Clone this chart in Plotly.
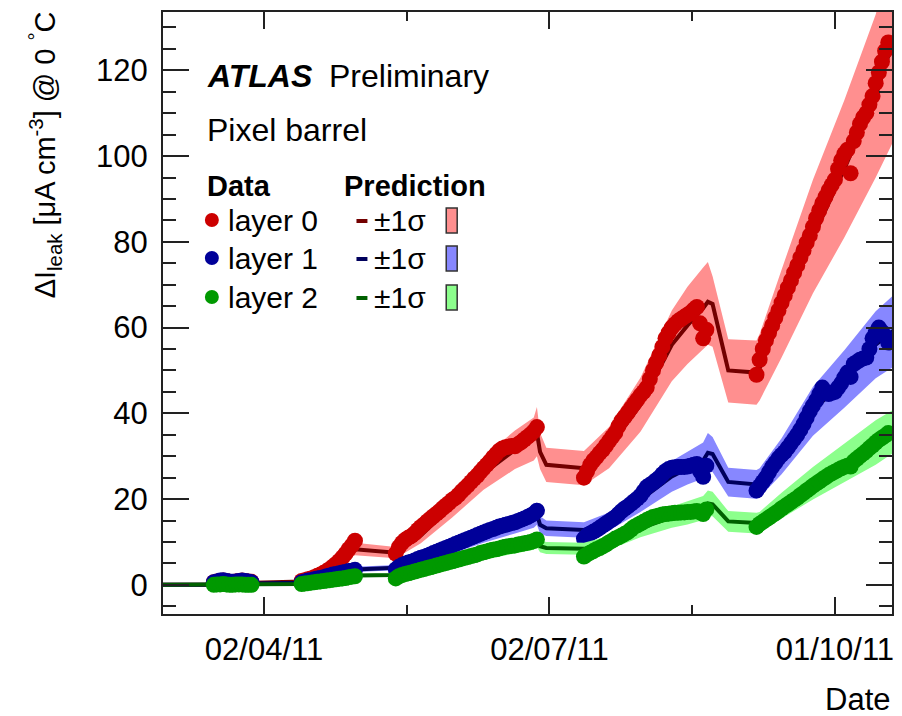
import plotly.graph_objects as go

# ---------------- data ----------------
DATES_A = ["2011-03-%02d" % d for d in range(17, 30)]
DATES_B = ["2011-04-%02d" % d for d in range(14, 31)] + ["2011-05-01"]
DATES_C = ["2011-05-%02d" % d for d in range(14, 32)] + ["2011-06-%02d" % d for d in range(1, 29)]
DATES_D = ["2011-07-%02d" % d for d in range(13, 32)] + ["2011-08-%02d" % d for d in range(1, 22)]
DATES_E = ["2011-09-%02d" % d for d in range(6, 31)] + ["2011-10-%02d" % d for d in range(1, 19)]
DATA_DATES = DATES_A + DATES_B + DATES_C + DATES_D + DATES_E

DATA_LAYER0 = [
    # Mar 17-29
    0.6, 0.8, 0.9, 1.0, 0.9, 0.7, 0.6, 0.8, 0.9, 1.0, 0.9, 0.8, 0.7,
    # Apr 14 - May 1
    0.9, 1.1, 1.3, 1.5, 1.8, 2.1, 2.4, 2.8, 3.2, 3.7, 4.3, 4.9, 5.6, 6.4, 7.3, 8.3, 9.2, 10.3,
    # May 14 - Jun 28
    7.3, 8.8, 9.8, 10.5, 11.0, 11.4, 12.0, 12.8, 13.5, 14.1, 14.8, 15.4, 16.0, 16.6, 17.2, 17.9,
    18.5, 19.1, 19.8, 20.3, 21.0, 21.8, 22.5, 23.2, 24.0, 24.8, 25.5, 26.4, 27.2, 28.0, 28.8, 29.7,
    30.5, 31.3, 31.8, 32.1, 32.2, 32.4, 32.3, 32.8, 33.3, 33.9, 34.5, 35.1, 35.8, 36.8,
    # Jul 13 - Aug 21
    25.0, 26.5, 28.0, 29.0, 29.8, 30.7, 31.5, 32.5, 33.5, 34.5, 35.5, 37.0, 38.3, 39.2, 40.2, 41.2,
    42.2, 43.2, 44.2, 45.0, 46.0, 48.0, 50.0, 51.8, 53.5, 55.5, 57.5, 58.8, 60.0, 60.8, 61.5, 62.0,
    62.5, 63.0, 63.5, 64.2, 64.8, 61.0, 57.5, 59.5,
    # Sep 6 - Oct 18
    49.0, 52.5, 55.0, 57.0, 58.8, 60.5, 62.3, 64.0, 65.8, 67.5, 69.3, 71.0, 72.8, 74.5, 76.3, 78.0,
    79.8, 81.5, 83.5, 85.5, 87.3, 89.0, 90.5, 92.0, 93.3, 94.5, 97.0, 99.0, 100.5, 101.5, 96.0,
    103.5, 105.5, 107.5, 109.0, 110.0, 112.0, 114.0, 117.0, 119.5, 122.0, 124.5, 126.5,
]

DATA_LAYER1 = [
    0.6, 0.8, 1.0, 1.1, 0.9, 0.8, 0.7, 0.8, 0.9, 1.0, 0.9, 0.8, 0.6,
    0.6, 0.8, 1.0, 1.1, 1.3, 1.5, 1.6, 1.8, 2.0, 2.2, 2.4, 2.5, 2.7, 2.9, 3.0, 3.2, 3.3, 3.5,
    3.6, 4.2, 4.6, 4.9, 5.2, 5.4, 5.7, 6.0, 6.3, 6.5, 6.8, 7.1, 7.4, 7.7, 8.0, 8.3,
    8.6, 8.9, 9.2, 9.5, 9.8, 10.1, 10.4, 10.7, 11.0, 11.3, 11.6, 11.9, 12.2, 12.5, 12.8, 13.0,
    13.3, 13.6, 13.8, 14.0, 14.2, 14.4, 14.6, 14.9, 15.2, 15.5, 15.8, 16.2, 16.6, 17.3,
    10.8, 11.5, 12.0, 12.4, 12.8, 13.3, 13.8, 14.3, 14.8, 15.3, 15.8, 16.5, 17.2, 17.8, 18.3, 18.9,
    19.5, 20.1, 20.8, 21.8, 22.8, 23.3, 23.8, 24.4, 25.0, 25.8, 26.5, 27.0, 27.3, 27.4, 27.5, 27.5,
    27.5, 27.6, 27.8, 28.0, 28.2, 26.5, 25.2, 27.8,
    22.0, 23.0, 24.0, 25.0, 26.3, 27.5, 28.5, 29.5, 30.3, 31.0, 32.0, 33.0, 34.0, 35.0, 36.2, 37.5,
    39.0, 40.5, 41.8, 43.0, 44.5, 46.0, 45.0, 44.5, 44.8, 45.0, 46.0, 47.0, 48.3, 49.5, 48.5,
    51.5, 52.0, 52.5, 52.8, 53.0, 55.0, 57.5, 58.8, 60.0, 59.0, 58.0, 56.5,
]

DATA_LAYER2 = [
    0.0, 0.1, 0.1, 0.2, 0.1, 0.0, 0.0, 0.1, 0.1, 0.1, 0.0, 0.0, 0.0,
    0.2, 0.3, 0.4, 0.5, 0.6, 0.7, 0.8, 0.9, 1.0, 1.1, 1.2, 1.3, 1.4, 1.5, 1.6, 1.8, 1.9, 2.0,
    1.5, 2.0, 2.3, 2.5, 2.7, 2.9, 3.1, 3.3, 3.5, 3.7, 3.9, 4.1, 4.3, 4.5, 4.7, 4.9,
    5.1, 5.3, 5.5, 5.7, 5.9, 6.1, 6.3, 6.5, 6.7, 6.9, 7.1, 7.4, 7.6, 7.8, 8.0, 8.2,
    8.3, 8.5, 8.7, 8.9, 9.0, 9.1, 9.2, 9.4, 9.5, 9.7, 9.8, 10.0, 10.2, 10.6,
    6.6, 7.1, 7.5, 7.9, 8.3, 8.6, 9.0, 9.4, 9.9, 10.3, 10.8, 11.1, 11.5, 11.9, 12.3, 12.9,
    13.5, 13.9, 14.3, 14.7, 15.1, 15.5, 15.8, 16.0, 16.2, 16.4, 16.5, 16.6, 16.7, 16.8, 16.8, 16.9,
    16.9, 17.0, 17.0, 17.1, 17.2, 16.9, 16.5, 17.6,
    13.5, 14.2, 14.7, 15.2, 15.7, 16.2, 16.7, 17.2, 17.8, 18.3, 18.8, 19.3, 19.8, 20.3, 20.9, 21.4,
    22.0, 22.5, 23.1, 23.6, 24.1, 24.6, 25.1, 25.6, 26.0, 26.4, 26.8, 27.2, 27.5, 27.8, 27.6,
    28.8, 29.4, 30.0, 30.6, 31.2, 31.9, 32.5, 33.2, 33.8, 34.3, 34.8, 35.4,
]

PRED_DATES = [
    "2011-02-27", "2011-03-17", "2011-03-29", "2011-04-14", "2011-04-22", "2011-05-01",
    "2011-05-14", "2011-05-22", "2011-06-01", "2011-06-11", "2011-06-21", "2011-06-27",
    "2011-06-28", "2011-06-29", "2011-07-01", "2011-07-13", "2011-07-21", "2011-07-31",
    "2011-08-10", "2011-08-15", "2011-08-20", "2011-08-21 12:00", "2011-08-23", "2011-08-28",
    "2011-09-06", "2011-09-07", "2011-09-14", "2011-09-24", "2011-10-04", "2011-10-14",
    "2011-10-20",
]

PRED_LAYER0 = [0, 0, 0.5, 0.8, 3.5, 8.3, 7.5, 11.5, 18.5, 26, 31.5, 34, 35.5, 31, 28, 27.2,
               32, 42, 56, 60.5, 64.5, 66, 65.5, 50, 49.5, 50.5, 63, 81, 97, 114, 128]
UP_LAYER0 = [0, 0.05, 0.7, 1.0, 4.1, 9.8, 8.8, 13.3, 21.3, 29.8, 36, 39, 41.5, 35.5, 32, 31.2,
             36.8, 48.3, 64, 69.5, 74, 75.3, 72, 57.3, 57, 58.5, 73.5, 94.5, 113, 133, 150]
LO_LAYER0 = [0, 0, 0.3, 0.6, 2.9, 6.9, 6.2, 9.7, 15.7, 22.2, 27, 29, 30, 27, 24, 23.2,
             27.2, 35.7, 47.5, 51.5, 55, 56, 55.5, 42.5, 42, 43, 53, 68, 81, 95, 104]

PRED_LAYER1 = [0, 0, 0.3, 0.5, 1.8, 3.6, 4.0, 5.8, 8.6, 11.5, 14, 15.5, 16.5, 14, 13.2, 12.8,
               14.8, 19.8, 25.3, 27.2, 29, 30.8, 30.5, 24, 23.4, 23.8, 30, 40.5, 48, 56, 59.5]
UP_LAYER1 = [0, 0.05, 0.45, 0.7, 2.2, 4.2, 4.6, 6.7, 9.9, 13.2, 16, 17.7, 19.3, 16, 15, 14.6,
             16.9, 22.6, 28.9, 31, 33.2, 35.4, 34.5, 27.3, 26.8, 27.2, 34.2, 46.2, 54.7, 63.8, 67.8]
LO_LAYER1 = [0, 0, 0.15, 0.3, 1.4, 3.0, 3.4, 4.9, 7.3, 9.8, 12, 13.3, 14, 12, 11.4, 11,
             12.7, 17, 21.7, 23.4, 24.8, 26.2, 26.3, 20.6, 20.1, 20.4, 25.8, 34.8, 41.3, 48.2, 51]

PRED_LAYER2 = [0, 0, 0.1, 0.2, 1.0, 2.2, 2.3, 3.5, 5.3, 7.0, 8.6, 9.6, 10.3, 9.0, 8.6, 8.4,
               9.8, 13.2, 15.8, 16.8, 17.9, 19.0, 18.8, 14.8, 14.4, 14.6, 18.5, 23.7, 28.5, 33.2, 36]
UP_LAYER2 = [0, 0.05, 0.2, 0.35, 1.3, 2.6, 2.7, 4.1, 6.1, 8.1, 9.9, 11.0, 11.9, 10.4, 10.0, 9.8,
             11.4, 15.3, 18.3, 19.5, 20.7, 22.0, 21.7, 17.2, 16.8, 17.0, 21.5, 27.5, 33, 38.4, 41]
LO_LAYER2 = [0, 0, 0.03, 0.1, 0.7, 1.8, 1.9, 2.9, 4.5, 5.9, 7.3, 8.2, 8.8, 7.6, 7.2, 7.0,
             8.2, 11.1, 13.3, 14.1, 15.1, 16.0, 16.0, 12.4, 12.0, 12.2, 15.5, 19.9, 24, 28, 31]

LAYER_NAMES = ["layer 0", "layer 1", "layer 2"]
X_TICKVALS = ["2011-04-02", "2011-07-02", "2011-10-01"]
X_TICKTEXT = ["02/04/11", "02/07/11", "01/10/11"]
X_MINOR = ["2011-05-17 12:00", "2011-08-16 12:00"]
X_RANGE = ["2011-02-28 19:12", "2011-10-19 04:48"]
Y_TICKVALS = [0, 20, 40, 60, 80, 100, 120]
Y_RANGE = [-6.8, 133.6]

# ---------------- styles ----------------
DOT_COLORS = ["#cc0000", "#000099", "#009900"]
LINE_COLORS = ["#730000", "#00005c", "#006000"]
BAND_COLORS = ["#ff8f8f", "#8787ff", "#8cff8c"]
FONT = "Liberation Sans, Arial, Helvetica, sans-serif"

W, H = 902, 716
ML, MR, MT, MB = 163, 8, 12, 102
PW, PH = W - ML - MR, H - MT - MB


def pxx(x):
    return (x - ML) / PW


def pxy(y):
    return (H - MB - y) / PH


fig = go.Figure()

layers = [
    (DATA_LAYER0, PRED_LAYER0, UP_LAYER0, LO_LAYER0),
    (DATA_LAYER1, PRED_LAYER1, UP_LAYER1, LO_LAYER1),
    (DATA_LAYER2, PRED_LAYER2, UP_LAYER2, LO_LAYER2),
]

for i, (dat, pred, up, lo) in enumerate(layers):
    fig.add_trace(go.Scatter(
        x=PRED_DATES + PRED_DATES[::-1], y=up + lo[::-1],
        fill="toself", fillcolor=BAND_COLORS[i], mode="lines",
        line=dict(width=0, color=BAND_COLORS[i]), hoverinfo="skip", showlegend=False))
    fig.add_trace(go.Scatter(
        x=PRED_DATES, y=pred, mode="lines",
        line=dict(color=LINE_COLORS[i], width=4), showlegend=False))
    fig.add_trace(go.Scatter(
        x=DATA_DATES, y=dat, mode="markers", name=LAYER_NAMES[i],
        marker=dict(color=DOT_COLORS[i], size=16, line=dict(width=0)), showlegend=False))

axis_common = dict(
    showline=True, linecolor="#222", linewidth=2, mirror="allticks",
    ticks="inside", tickcolor="#222", tickwidth=2, showgrid=False, zeroline=False,
    tickfont=dict(family=FONT, size=31, color="black"),
)

fig.update_xaxes(
    type="date", range=X_RANGE, tickmode="array", tickvals=X_TICKVALS, ticktext=X_TICKTEXT,
    ticklen=17, ticklabelstandoff=7,
    minor=dict(tickmode="array", tickvals=X_MINOR, ticklen=9, ticks="inside",
               tickcolor="#222", tickwidth=2, showgrid=False),
    **axis_common)
fig.update_yaxes(
    range=Y_RANGE, tickmode="array", tickvals=Y_TICKVALS,
    ticklen=26, ticklabelstandoff=7,
    minor=dict(tickmode="linear", tick0=0, dtick=5, ticklen=13, ticks="inside",
               tickcolor="#222", tickwidth=2, showgrid=False),
    **axis_common)

ann = []


def text(x, y, s, size=30, anchor="left", **kw):
    ann.append(dict(x=pxx(x), y=pxy(y), xref="paper", yref="paper", text=s, showarrow=False,
                    xanchor=anchor, yanchor="middle",
                    font=dict(family=FONT, size=size, color="black"), **kw))


text(205, 76, "<b><i>ATLAS</i></b>", 32)
text(327, 76, "Preliminary", 32)
text(205, 130, "Pixel barrel", 32)
text(205, 186, "<b>Data</b>", 29)
text(342, 186, "<b>Prediction</b>", 29)

shapes = []
ROWS = [220, 258, 297]
for i, yy in enumerate(ROWS):
    text(226, yy, LAYER_NAMES[i], 30)
    text(373, yy, "±1σ", 30)
    shapes.append(dict(type="circle", xref="paper", yref="paper",
                       x0=pxx(205), x1=pxx(219), y0=pxy(yy + 7), y1=pxy(yy - 7),
                       fillcolor=DOT_COLORS[i], line=dict(width=0)))
    shapes.append(dict(type="line", xref="paper", yref="paper",
                       x0=pxx(357), x1=pxx(368), y0=pxy(yy + 1), y1=pxy(yy + 1),
                       line=dict(color=LINE_COLORS[i], width=4)))
    shapes.append(dict(type="rect", xref="paper", yref="paper",
                       x0=pxx(447), x1=pxx(458), y0=pxy(yy + 13), y1=pxy(yy - 12),
                       fillcolor=BAND_COLORS[i], line=dict(color="#333", width=1.5)))

# axis titles
text(45, 155, "ΔI<sub>leak</sub> [μA cm<sup>-3</sup>] @ 0 <sup>°</sup>C", 29,
     anchor="center", textangle=-90)
text(894, 699, "Date", 31, anchor="right")

fig.update_layout(
    width=W, height=H, margin=dict(l=ML, r=MR, t=MT, b=MB),
    paper_bgcolor="white", plot_bgcolor="white", showlegend=False,
    annotations=ann, shapes=shapes,
    font=dict(family=FONT, color="black"),
)

fig.write_html("out.html")
